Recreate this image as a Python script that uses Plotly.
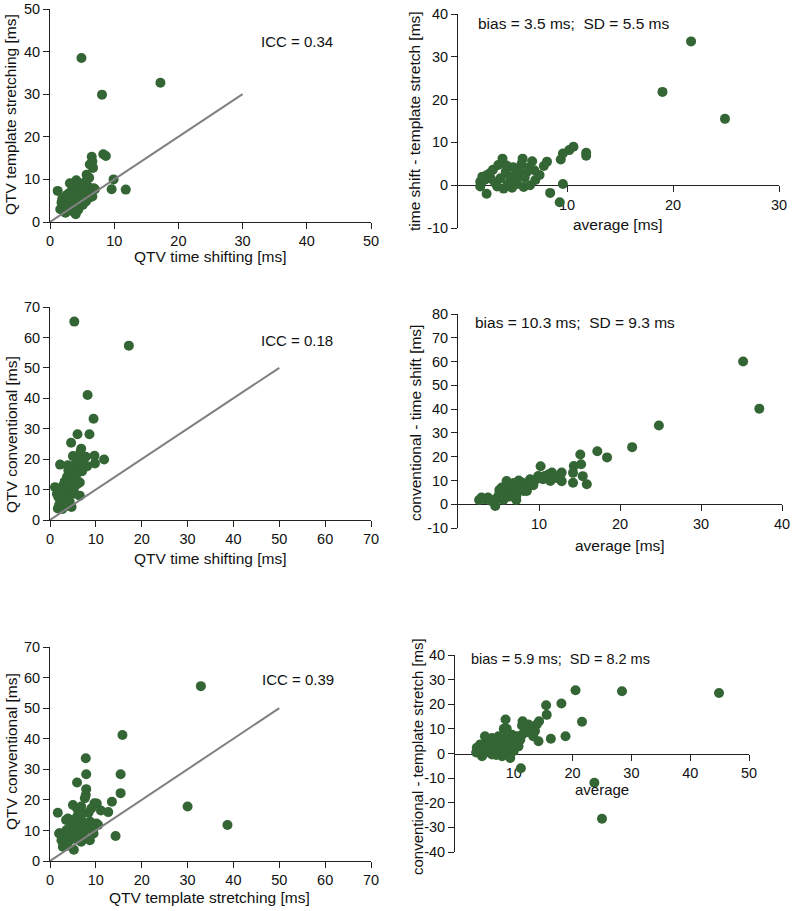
import plotly.graph_objects as go

W, H = 793, 911
GREEN = "rgb(52,101,52)"
FONT = "Arial, Liberation Sans, sans-serif"

# ---------------- data ----------------
# Panel 1: QTV time shifting vs QTV template stretching
p1_time_shift = [4.9, 17.2, 8.1, 8.3, 8.7, 6.5, 6.6, 6.2, 6.7, 5.7, 6.1, 9.9, 9.6, 11.8, 1.2, 4.1, 3.1, 4.0, 2.4, 3.4,
                 1.8, 1.9, 2.0, 2.2, 2.5, 2.6, 2.8, 3.0, 3.2, 3.3, 3.5, 3.6, 3.8, 4.0, 4.2, 4.3, 4.5, 4.6, 4.8, 5.0,
                 5.1, 5.3, 5.5, 5.6, 5.9, 6.1, 6.4, 6.8, 7.0, 3.7, 2.9, 1.6, 4.4, 5.4, 6.6]
p1_template_stretch = [38.5, 32.7, 29.9, 15.9, 15.5, 15.3, 14.2, 13.5, 12.7, 11.1, 10.4, 10.0, 7.7, 7.6, 7.3, 9.8, 9.1, 1.8, 2.2, 2.6,
                       4.6, 5.4, 3.8, 4.4, 5.9, 6.3, 3.3, 4.8, 5.6, 7.1, 8.3, 6.6, 5.1, 7.6, 4.2, 8.6, 6.0, 9.0, 5.3, 7.2,
                       4.0, 8.0, 6.6, 4.8, 8.4, 5.7, 6.2, 7.9, 7.7, 3.6, 6.7, 3.0, 2.9, 9.3, 6.0]

# Panel 2: Bland-Altman time shift vs template stretch
p2_average = [21.7, 19.0, 24.9, 10.6, 10.2, 9.6, 9.4, 11.8, 11.8, 9.6, 8.4, 9.3, 8.1, 7.8, 7.0, 6.7, 6.9, 5.8, 5.7, 5.9,
              5.0, 5.2, 5.4, 4.9, 5.6, 6.2, 6.4, 3.9, 4.2, 4.0, 3.4, 2.4, 1.8, 1.8, 2.4, 2.7, 3.0, 2.8, 3.5, 3.7,
              4.4, 4.6, 4.8, 3.2, 2.2, 6.0, 7.4, 6.5, 4.3, 2.0, 5.3]
p2_difference = [33.6, 21.8, 15.5, 9.0, 8.2, 7.4, 6.0, 7.6, 6.9, 0.3, -1.8, -4.0, 5.5, 4.5, 1.2, 5.6, 3.5, 6.2, 5.0, -0.4,
                 1.5, 2.8, 3.9, 4.2, 2.2, 3.1, 4.1, 6.2, 3.1, -0.8, -0.3, -2.0, 0.8, -0.3, 2.3, 2.8, 3.6, 1.5, 4.7, 1.6,
                 0.3, 2.0, -0.6, 0.5, 1.2, 1.8, 2.4, 0.0, 4.6, 2.0, 0.3]

# Panel 3: QTV time shifting vs QTV conventional
p3_time_shift = [5.3, 17.2, 8.2, 9.5, 6.0, 8.6, 4.6, 6.8, 6.6, 9.7, 7.8, 11.8, 9.8, 8.1, 2.2, 1.1, 4.7, 6.5, 1.7, 2.0,
                 1.8, 2.3, 2.6, 2.9, 3.1, 3.2, 3.4, 3.5, 3.7, 3.8, 4.0, 4.1, 4.2, 4.4, 4.5, 4.6, 4.8, 5.0, 5.2, 5.3,
                 5.5, 5.7, 5.9, 6.0, 6.2, 6.5, 6.6, 7.0, 2.7, 3.0, 2.4, 3.6, 4.3, 5.4, 1.5, 3.9, 7.2, 5.0]
p3_conventional = [65.2, 57.3, 41.1, 33.3, 28.2, 28.2, 25.4, 23.4, 22.2, 21.1, 20.8, 19.9, 18.6, 17.7, 18.2, 10.8, 4.3, 8.0, 3.8, 5.0,
                   7.6, 9.0, 6.2, 11.4, 8.4, 12.6, 5.5, 9.8, 14.1, 7.2, 16.3, 11.0, 13.0, 9.3, 15.5, 17.3, 12.2, 14.6, 10.4, 18.0,
                   16.2, 13.5, 11.8, 19.5, 15.7, 12.3, 17.0, 16.0, 3.6, 6.8, 10.0, 4.6, 6.0, 8.6, 8.6, 18.0, 19.0, 21.0]

# Panel 4: Bland-Altman conventional vs time shift
p4_average = [35.2, 37.2, 24.8, 21.5, 17.2, 18.4, 15.1, 15.2, 14.3, 14.2, 15.4, 14.2, 15.9, 10.2, 12.8, 12.8, 11.6, 11.8, 11.4, 11.2,
              10.7, 9.9, 9.7, 8.9, 8.7, 9.1, 7.9, 7.7, 7.2, 6.6, 6.0, 6.2, 5.8, 5.4, 5.0, 4.6, 3.7, 3.3, 2.6, 2.9,
              4.6, 7.2, 7.2, 5.4, 8.1, 8.5, 6.5, 6.9, 5.1, 6.3, 7.5, 9.3, 10.5, 12.2, 4.0, 5.6, 6.8]
p4_difference = [60.0, 40.2, 33.1, 24.0, 22.3, 19.7, 20.9, 16.8, 16.1, 13.2, 11.8, 9.0, 8.4, 16.0, 13.3, 9.7, 13.3, 11.2, 9.8, 12.6,
                 11.9, 11.9, 10.5, 10.5, 7.7, 9.1, 9.1, 7.0, 5.6, 7.7, 9.8, 7.0, 4.9, 4.2, 3.5, 2.1, 2.8, 2.1, 1.8, 2.8,
                 -0.7, 1.8, 3.5, 7.0, 5.6, 5.6, 5.0, 8.9, 6.0, 3.2, 10.0, 8.0, 10.5, 11.0, 1.5, 1.8, 4.0]

# Panel 5: QTV template stretching vs QTV conventional
p5_template_stretch = [32.9, 15.8, 7.8, 7.9, 15.4, 5.9, 7.9, 15.4, 7.8, 7.6, 13.5, 10.2, 5.0, 30.0, 1.7, 12.7, 11.1, 8.4, 38.7, 14.3,
                       5.2, 2.0, 2.8, 5.9, 6.8, 9.7, 9.0, 3.9, 4.7, 6.8, 8.7, 10.1, 10.5, 2.1, 3.6, 4.3, 5.4, 6.5, 7.6, 9.4,
                       2.5, 3.2, 4.3, 5.4, 6.8, 8.7, 3.5, 5.6, 4.6, 6.2, 3.8, 7.2, 9.5, 8.0, 2.9, 4.9, 6.0, 7.0]
p5_conventional = [57.2, 41.2, 33.6, 28.4, 28.4, 25.7, 23.5, 22.2, 21.6, 20.5, 19.4, 18.8, 18.3, 17.8, 15.8, 16.0, 16.5, 15.8, 11.8, 8.2,
                   3.7, 9.0, 4.7, 17.2, 17.8, 18.9, 17.2, 13.9, 13.4, 13.4, 12.9, 12.3, 11.8, 9.1, 10.1, 10.7, 9.6, 11.0, 10.1, 10.1,
                   6.8, 5.7, 6.8, 7.4, 6.3, 6.8, 13.4, 12.2, 8.6, 8.4, 5.0, 8.8, 9.0, 11.5, 8.0, 11.8, 14.8, 15.5]

# Panel 6: Bland-Altman conventional vs template stretch
p6_average = [44.9, 28.4, 20.5, 18.1, 15.5, 15.6, 21.6, 18.8, 16.3, 23.7, 25.0, 11.2, 8.6, 11.5, 11.4, 14.3, 13.9, 13.6, 13.3, 14.2,
              8.3, 8.8, 8.5, 7.4, 6.3, 5.1, 5.4, 4.3, 3.7, 4.0, 4.6, 6.3, 7.4, 8.0, 9.1, 9.4, 10.8, 10.5, 9.7, 11.4,
              12.2, 11.1, 12.5, 6.9, 7.8, 9.0, 5.8, 4.5, 3.6, 6.6, 8.2, 10.0, 7.0, 9.8, 5.0]
p6_difference = [24.6, 25.3, 25.7, 20.3, 19.6, 15.7, 12.9, 7.0, 6.0, -11.9, -26.5, -6.0, 13.8, 13.1, 11.4, 13.1, 11.8, 9.1, 7.0, 5.0,
                 10.0, 10.0, 6.3, 7.0, 6.3, 7.0, 4.3, 3.7, 2.3, 0.9, -1.1, -0.4, 1.6, -1.1, 0.3, -1.8, 2.9, 7.0, 7.6, 7.6,
                 8.6, 5.6, 11.8, 3.2, 4.5, 3.5, 2.0, 2.6, 0.4, 5.0, 2.6, 1.0, -0.6, 4.8, 0.2]

identity_short = [0, 30]
identity_long = [0, 50]

icc_texts = ["ICC = 0.34", "ICC = 0.18", "ICC = 0.39"]
bias_texts = ["bias = 3.5 ms;  SD = 5.5 ms", "bias = 10.3 ms;  SD = 9.3 ms", "bias = 5.9 ms;  SD = 8.2 ms"]

# ---------------- layout helpers ----------------
def xdom(a, b):
    return [a / W, b / W]

def ydom(top, bottom):
    return [1 - bottom / H, 1 - top / H]

def px(x):
    return x / W

def py(y):
    return 1 - y / H

panels = [
    dict(x=p1_time_shift, y=p1_template_stretch, xd=(50, 371), yd=(9, 222), xr=[0, 50], yr=[0, 50],
         xt=list(range(0, 51, 10)), yt=list(range(0, 51, 10)), ident=identity_short, cross=False),
    dict(x=p2_average, y=p2_difference, xd=(458, 779), yd=(14, 228), xr=[-0.3, 30], yr=[-10, 40],
         xt=[10, 20, 30], yt=list(range(-10, 41, 10)), ident=None, cross=True),
    dict(x=p3_time_shift, y=p3_conventional, xd=(50, 371), yd=(307, 520), xr=[0, 70], yr=[0, 70],
         xt=list(range(0, 71, 10)), yt=list(range(0, 71, 10)), ident=identity_long, cross=False),
    dict(x=p4_average, y=p4_difference, xd=(458, 782), yd=(314, 528), xr=[0, 40], yr=[-10, 80],
         xt=[10, 20, 30, 40], yt=list(range(-10, 81, 10)), ident=None, cross=True),
    dict(x=p5_template_stretch, y=p5_conventional, xd=(50, 371), yd=(647, 861), xr=[0, 70], yr=[0, 70],
         xt=list(range(0, 71, 10)), yt=list(range(0, 71, 10)), ident=identity_long, cross=False),
    dict(x=p6_average, y=p6_difference, xd=(455, 749), yd=(655, 852), xr=[0, 50], yr=[-40, 40],
         xt=[10, 20, 30, 40, 50], yt=list(range(-40, 41, 10)), ident=None, cross=True),
]

fig = go.Figure()
axis_common = dict(showgrid=False, zeroline=False, showline=True, linecolor="#222", linewidth=1,
                   ticks="outside", ticklen=6, tickwidth=1, tickcolor="#222", automargin=False,
                   tickfont=dict(family=FONT, size=14.5, color="#111"))

for i, p in enumerate(panels, start=1):
    xa = "x" if i == 1 else f"x{i}"
    ya = "y" if i == 1 else f"y{i}"
    fig.add_trace(go.Scatter(x=p["x"], y=p["y"], mode="markers", xaxis=xa, yaxis=ya,
                             marker=dict(color=GREEN, size=10, line=dict(width=0)),
                             showlegend=False, hoverinfo="x+y"))
    if p["ident"] is not None:
        fig.add_trace(go.Scatter(x=p["ident"], y=p["ident"], mode="lines", xaxis=xa, yaxis=ya,
                                 line=dict(color="rgb(128,128,128)", width=2),
                                 showlegend=False, hoverinfo="skip"))
    yd = ydom(*p["yd"])
    xkw = dict(axis_common, domain=xdom(*p["xd"]), range=p["xr"], tickvals=p["xt"],
               ticktext=[str(v) for v in p["xt"]])
    ykw = dict(axis_common, domain=yd, range=p["yr"], tickvals=p["yt"],
               ticktext=[str(v) for v in p["yt"]], anchor=xa)
    if p["cross"]:
        frac = (0 - p["yr"][0]) / (p["yr"][1] - p["yr"][0])
        xkw.update(anchor="free", position=yd[0] + frac * (yd[1] - yd[0]), layer="below traces")
    else:
        xkw.update(anchor=ya)
    key = "" if i == 1 else str(i)
    fig.update_layout(**{f"xaxis{key}": xkw, f"yaxis{key}": ykw})

# ---------------- text annotations ----------------
ann = []
def add(text, x, y, size=15, angle=0):
    ann.append(dict(text=text, x=px(x), y=py(y), xref="paper", yref="paper", showarrow=False,
                    xanchor="center", yanchor="middle", textangle=angle,
                    font=dict(family=FONT, size=size, color="#111")))

# axis titles
add("QTV time shifting [ms]", 210, 257, size=15.5)
add("QTV template stretching [ms]", 11, 115, size=15.5, angle=-90)
add("average [ms]", 618, 224, size=15.5)
add("time shift - template stretch [ms]", 414, 121, size=15.5, angle=-90)
add("QTV time shifting [ms]", 210, 558, size=15.5)
add("QTV conventional [ms]", 11, 435, size=15.5, angle=-90)
add("average [ms]", 620, 545, size=15.5)
add("conventional - time shift [ms]", 415, 423, size=15.5, angle=-90)
add("QTV template stretching [ms]", 210, 897, size=15.5)
add("QTV conventional [ms]", 11, 752, size=15.5, angle=-90)
add("average", 602, 789, size=15)
add("conventional - template stretch [ms]", 417, 756, size=15, angle=-90)

# statistics
add(icc_texts[0], 297, 42)
add(icc_texts[1], 297, 340)
add(icc_texts[2], 298, 679)
add(bias_texts[0], 573, 24, size=15.5)
add(bias_texts[1], 575, 323, size=15.5)
add(bias_texts[2], 560, 659, size=14.5)

fig.update_layout(template="none", width=W, height=H, margin=dict(l=0, r=0, t=0, b=0, pad=0),
                  paper_bgcolor="white", plot_bgcolor="white", annotations=ann,
                  showlegend=False)

fig.write_html("out.html", config={"displayModeBar": False},
               post_script="document.body.style.margin='0px';document.body.style.overflow='hidden';")
